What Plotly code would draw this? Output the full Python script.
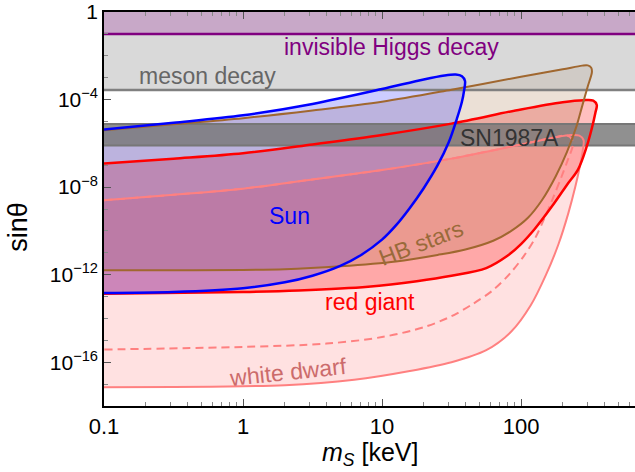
import plotly.graph_objects as go

# ---------------- data ----------------
# Each contour: upper edge left->right, around the right end, lower edge right->left
sun_m = [0.1, 0.316, 1, 3.16, 10, 19.95, 28.18, 33.88, 37.58, 39.54,
         38.9, 37.58, 34.67, 30.2, 25.12, 19.95, 15.85, 12.59, 10, 7.08, 5.01, 3.16, 2.0, 1, 0.316, 0.1]
sun_s = [4.27e-6, 8.71e-6, 1.91e-5, 6.31e-5, 3.02e-4, 8.32e-4, 1.26e-3, 1.38e-3, 1.17e-3, 7.08e-4,
         2.51e-4, 7.94e-5, 1.41e-5, 1.12e-6, 1e-7, 8.91e-9, 1.12e-9, 1.78e-10, 3.98e-11, 7.94e-12,
         2.51e-12, 8.91e-13, 4.47e-13, 2.4e-13, 1.62e-13, 1.45e-13]

hb_m = [0.1, 0.316, 1, 3.16, 10, 31.6, 100, 199.5, 275.4, 302, 320, 323.6,
        302, 275.4, 251.2, 213.8, 177.8, 141.3, 112.2, 85.1, 63.1, 39.8, 25.1, 12.6, 5.01, 2.0, 0.1]
hb_s = [3.98e-6, 7.41e-6, 1.41e-5, 3.16e-5, 7.94e-5, 2.82e-4, 1.1e-3, 2.4e-3, 3.55e-3, 3.63e-3, 2.82e-3, 1.78e-3,
        3.98e-4, 5.01e-5, 6.31e-6, 3.98e-7, 3.16e-8, 2.51e-9, 3.98e-10, 1e-10, 3.55e-11, 1.41e-11, 7.94e-12,
        3.98e-12, 2.4e-12, 1.78e-12, 1.58e-12]

rg_m = [0.1, 0.316, 1, 3.16, 10, 31.6, 100, 199.5, 281.8, 331.1, 350.8,
        342.8, 323.6, 295.1, 257, 213.8, 166, 125.9, 100, 79.4, 56.2, 31.6, 17.78, 7.94, 2.51, 1, 0.1]
rg_s = [1.2e-7, 2e-7, 3.55e-7, 8.91e-7, 2.4e-6, 7.94e-6, 3.55e-5, 7.59e-5, 9.33e-5, 8.91e-5, 5.62e-5,
        2.51e-5, 5.01e-6, 6.31e-7, 6.31e-8, 1.26e-8, 1.26e-9, 1.26e-10, 2.51e-11, 7.08e-12, 2e-12, 8.91e-13,
        5.01e-13, 2.82e-13, 1.91e-13, 1.62e-13, 1.35e-13]

wd_m = [0.1, 0.316, 1, 3.16, 10, 31.6, 100, 177.8, 229.1, 263, 281.8,
        278.6, 266, 245.5, 218.8, 186.2, 151.4, 117.5, 85.1, 56.2, 31.6, 15.85, 6.31, 2.0, 0.1]
wd_s = [2.51e-9, 4.47e-9, 8.51e-9, 2.24e-8, 6.03e-8, 2e-7, 8.91e-7, 1.91e-6, 2.4e-6, 2.24e-6, 1.41e-6,
        5.01e-7, 1e-7, 1e-8, 6.31e-10, 2.51e-11, 1e-12, 3.98e-14, 2.51e-15, 3.55e-16, 1e-16, 3.98e-17,
        1.58e-17, 8.91e-18, 7.24e-18]

wdd_m = [0.1, 0.316, 1, 3.16, 10, 31.6, 100, 177.8, 213.8, 231.7,
         235.5, 218.8, 195, 169.8, 147.9, 125.9, 104.7, 83.2, 63.1, 44.7, 31.6, 20, 10, 3.98, 1, 0.1]
wdd_s = [2.51e-9, 4.47e-9, 8.51e-9, 2.24e-8, 6.03e-8, 2e-7, 8.91e-7, 1.91e-6, 2.29e-6, 1.58e-6,
         7.94e-7, 2e-7, 2.82e-8, 3.16e-9, 3.98e-10, 4.47e-11, 7.08e-12, 1.12e-12, 2e-13, 4.47e-14,
         1.26e-14, 3.98e-15, 1.41e-15, 7.08e-16, 5.01e-16, 3.8e-16]

# Horizontal bands (sin theta limits)
higgs_band = [0.1, 1.0]
meson_band = [2.7e-4, 0.1]
sn_band = [8e-7, 7.6e-6]
band_m = [0.01, 10000]

x_tickvals = [0.1, 1, 10, 100]
x_ticktext = ["0.1", "1", "10", "100"]
y_tickvals = [1, 1e-4, 1e-8, 1e-12, 1e-16]
y_ticktext = ["1", "10<sup>\u22124</sup>", "10<sup>\u22128</sup>", "10<sup>\u221212</sup>", "10<sup>\u221216</sup>"]

FONT = "Liberation Sans, Arial, sans-serif"
SM = 0.9

fig = go.Figure()


def region_fill(m, s, color):
    fig.add_trace(go.Scatter(x=m, y=s, mode="lines", fill="toself", fillcolor=color,
                             line=dict(width=0, shape="spline", smoothing=SM),
                             hoverinfo="skip", showlegend=False))


def band(lims, color):
    lo, hi = lims
    fig.add_trace(go.Scatter(x=[band_m[0], band_m[1], band_m[1], band_m[0]], y=[lo, lo, hi, hi],
                             mode="lines", fill="toself", fillcolor=color, line=dict(width=0),
                             hoverinfo="skip", showlegend=False))


def hline(val, color, width):
    fig.add_trace(go.Scatter(x=band_m, y=[val, val], mode="lines",
                             line=dict(color=color, width=width),
                             hoverinfo="skip", showlegend=False))


def contour(m, s, color, width, dash="solid"):
    fig.add_trace(go.Scatter(x=m, y=s, mode="lines",
                             line=dict(color=color, width=width, dash=dash, shape="spline", smoothing=SM),
                             hoverinfo="skip", showlegend=False))


# fills
region_fill(wd_m, wd_s, "rgba(255,128,128,0.24)")
region_fill(rg_m, rg_s, "rgba(255,0,0,0.25)")
region_fill(hb_m, hb_s, "rgba(153,102,51,0.2)")
region_fill(sun_m, sun_s, "rgba(0,0,255,0.2)")

# bands
band(meson_band, "rgba(185,185,185,0.55)")
band(higgs_band, "rgb(200,168,200)")
band(sn_band, "rgba(120,120,120,0.82)")
hline(meson_band[0], "#808080", 2.5)
hline(sn_band[0], "#777777", 2)
hline(sn_band[1], "#777777", 2)
hline(higgs_band[0], "#800080", 2.5)

# contour lines
contour(wd_m, wd_s, "#FF8080", 2)
contour(wdd_m, wdd_s, "#FF8080", 2, dash="8px,5px")
contour(rg_m, rg_s, "#FF0000", 2.5)
contour(hb_m, hb_s, "#A0672F", 2)
contour(sun_m, sun_s, "#0000FF", 2.5)

minor_x = [v * d for d in (0.1, 1, 10, 100) for v in range(2, 10)]
minor_y = [10.0 ** (-k) for k in range(1, 19) if k % 4 != 0]

fig.update_layout(
    width=635, height=472,
    margin=dict(l=104, r=0, t=12, b=66),
    paper_bgcolor="white", plot_bgcolor="white",
    font=dict(family=FONT, color="black"),
    xaxis=dict(type="log", range=[-1, 2.82], showgrid=False, zeroline=False,
               showline=True, linecolor="black", linewidth=1.5, mirror="ticks",
               ticks="inside", ticklen=7, tickwidth=1, tickcolor="#555",
               tickvals=x_tickvals, ticktext=x_ticktext,
               tickfont=dict(size=22, family=FONT, color="black"),
               minor=dict(ticks="inside", ticklen=4, tickcolor="#888", tickvals=minor_x, showgrid=False)),
    yaxis=dict(type="log", range=[-18, 0], showgrid=False, zeroline=False,
               showline=True, linecolor="black", linewidth=1.5, mirror=False,
               ticks="inside", ticklen=7, tickwidth=1, tickcolor="#555",
               tickvals=y_tickvals, ticktext=y_ticktext,
               tickfont=dict(size=21, family=FONT, color="black"),
               minor=dict(ticks="inside", ticklen=4, tickcolor="#888", tickvals=minor_y, showgrid=False)),
)

ann = [
    ("invisible Higgs decay", 1.065, -1.60, "#800080", 0),
    ("meson decay", -0.255, -2.93, "#666666", 0),
    ("SN1987A", 1.914, -5.76, "#333333", 0),
    ("Sun", 0.331, -9.33, "#0000FF", 0),
    ("HB stars", 1.281, -10.56, "#9A6A3A", -21),
    ("red giant", 0.914, -13.26, "#FF0000", 0),
    ("white dwarf", 0.324, -16.46, "#CC6B6B", -6),
]
for text, ax_, ay_, col, ang in ann:
    fig.add_annotation(x=ax_, y=ay_, xref="x", yref="y", text=text, showarrow=False,
                       textangle=ang, font=dict(size=23, color=col, family=FONT),
                       xanchor="center", yanchor="middle")

# axis titles
fig.add_annotation(x=-0.162, y=0.455, xref="paper", yref="paper", text="sin\u03b8", showarrow=False,
                   textangle=-90, xanchor="center", yanchor="middle",
                   font=dict(size=27, color="black", family=FONT))
fig.add_annotation(x=0.5, y=-0.122, xref="paper", yref="paper",
                   text="<i>m<sub>S</sub></i> [keV]", showarrow=False, xanchor="center",
                   font=dict(size=25, color="black", family=FONT), yanchor="middle")

fig.write_html("out.html")
